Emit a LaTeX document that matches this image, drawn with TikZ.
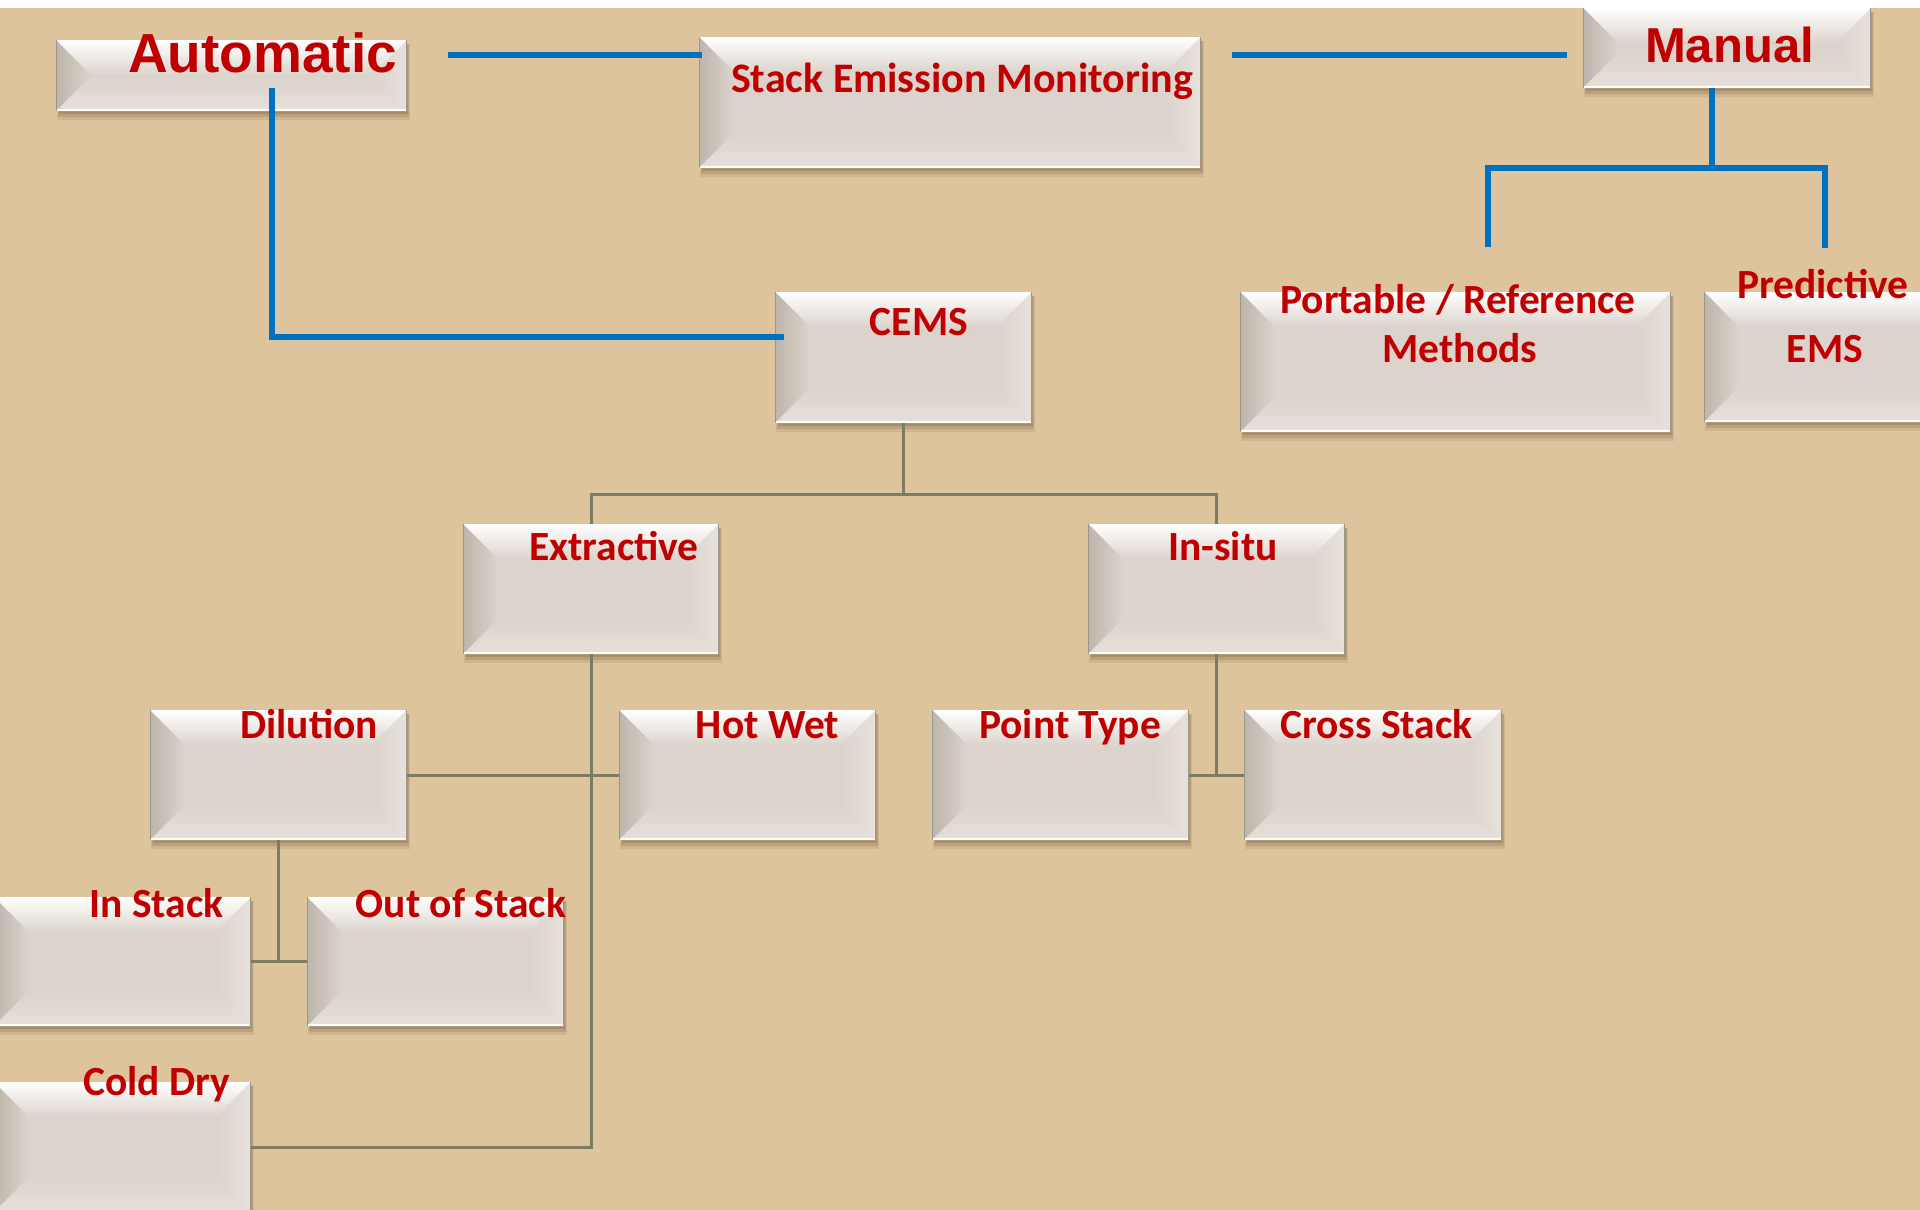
\documentclass[tikz,border=0pt]{standalone}
\usepackage{fontspec}
\setmainfont{Carlito}
\newfontfamily\headfont{Liberation Sans}

\definecolor{bgtan}{HTML}{DEC49C}
\definecolor{face}{HTML}{DCD4CC}
\definecolor{bevdark}{HTML}{BDB5AC}
\definecolor{bevlight}{HTML}{E8E2DA}
\definecolor{bevbot}{HTML}{E6E0D8}
\definecolor{edgecol}{HTML}{9C958C}
\definecolor{shadowcol}{HTML}{4A3418}
\definecolor{txtred}{HTML}{C00000}
\definecolor{lineblue}{HTML}{0070C0}
\definecolor{linegray}{HTML}{7E7C60}

\tikzset{
  boxnode/.style={inner sep=0pt, outer sep=0pt},
  lbl/.style={text=txtred, font=\bfseries\fontsize{41.5}{49}\selectfont, anchor=base, inner sep=0pt},
  headlbl/.style={text=txtred, anchor=base, inner sep=0pt},
  blueline/.style={draw=lineblue, line width=5.5pt},
  grayline/.style={draw=linegray, line width=3pt},
}

% bevelled box: name, x1, y1, x2, y2 (y grows downwards)
\newcommand\bevbox[5]{%
  \pgfmathsetmacro\bw{#4-(#2)}%
  \pgfmathsetmacro\bh{#5-(#3)}%
  \pgfmathsetmacro\bd{min(35,\bh/2)}%
  \fill[shadowcol,opacity=.10] (#2+1,#3+4) rectangle (#4+3,#5+9);
  \fill[shadowcol,opacity=.14] (#2+2,#3+4) rectangle (#4+2,#5+6);
  \fill[shadowcol,opacity=.18] (#2+3,#3+4) rectangle (#4+1,#5+3);
  \fill[face] (#2,#3) rectangle (#4,#5);
  \shade[top color=white, middle color=white!75!face, bottom color=face]
    (#2,#3) -- (#4,#3) -- (#4-\bd,#3+\bd) -- (#2+\bd,#3+\bd) -- cycle;
  \shade[left color=bevdark, right color=face]
    (#2,#3) -- (#2+\bd,#3+\bd) -- (#2+\bd,#5-\bd) -- (#2,#5) -- cycle;
  \shade[left color=face, right color=bevlight]
    (#4,#3) -- (#4,#5) -- (#4-\bd,#5-\bd) -- (#4-\bd,#3+\bd) -- cycle;
  \shade[top color=face, bottom color=bevbot]
    (#2,#5) -- (#2+\bd,#5-\bd) -- (#4-\bd,#5-\bd) -- (#4,#5) -- cycle;
  \draw[white,line width=1.5pt] (#2,#5-1) -- (#4,#5-1);
  \draw[edgecol,line width=1pt] (#2+.5,#3) -- (#2+.5,#5) (#4-.5,#3) -- (#4-.5,#5);
  \node[boxnode, minimum width=\bw pt, minimum height=\bh pt] (#1) at ({(#2+#4)/2},{(#3+#5)/2}) {};
}

\begin{document}
\begin{tikzpicture}[x=1pt,y=-1pt]
\useasboundingbox (0,0) rectangle (1920,1210);
\clip (0,0) rectangle (1920,1210);
\fill[bgtan] (0,0) rectangle (1920,1210);
\fill[white] (0,0) rectangle (1920,8);

% boxes
\bevbox{auto}{56}{40}{407}{111}
\bevbox{sem}{699}{37}{1201}{168}
\bevbox{manual}{1583}{8}{1871}{88}
\bevbox{cems}{775}{292}{1032}{423}
\bevbox{port}{1240}{292}{1671}{432}
\bevbox{pred}{1704}{292}{1962}{422}
\bevbox{extr}{463}{524}{719}{654}
\bevbox{insitu}{1088}{524}{1345}{654}
\bevbox{dil}{150}{710}{407}{840}
\bevbox{hot}{619}{710}{876}{840}
\bevbox{pt}{932}{710}{1189}{840}
\bevbox{cross}{1244}{710}{1502}{840}
\bevbox{instack}{-6}{897}{251}{1026}
\bevbox{outstack}{307}{897}{564}{1026}
\bevbox{cold}{-6}{1082}{251}{1212}

% blue connectors (top level)
\coordinate (aS) at (448,55);
\draw[blueline] (aS) -- ([xshift=3pt]aS -| sem.west);
\coordinate (mS) at (1232,55);
\coordinate (mE) at (1567,55);
\draw[blueline] (mS) -- (mE);
\coordinate (aDown) at (272,88);
\coordinate (cIn) at (784,337);
\draw[blueline] (aDown) |- (cIn);
\coordinate (mj) at (1712,168);
\coordinate (pTop) at (1488,247);
\coordinate (eTop) at (1825,248);
\draw[blueline] ([xshift=-15pt]manual.south) -- (mj);
\draw[blueline] (pTop) |- (mj) -| (eTop);

% gray connectors (CEMS tree)
\draw[grayline] (cems.south) -- ++(0,71) coordinate (cj);
\draw[grayline] (extr.north) |- (cj) -| (insitu.north);
\draw[grayline] (extr.south) |- (cold.east);
\draw[grayline] (dil.east) -- (hot.west);
\draw[grayline] (insitu.south) -- (insitu.south |- pt.east);
\draw[grayline] (pt.east) -- (cross.west);
\draw[grayline] (dil.south) -- (dil.south |- instack.east);
\draw[grayline] (instack.east) -- (outstack.west);

% labels
\node[headlbl, font=\headfont\bfseries\fontsize{55}{60}\selectfont] (tAuto) at (262.5,72) {Automatic};
\node[headlbl, font=\headfont\bfseries\fontsize{49}{54}\selectfont] (tManual) at (1729.5,62) {Manual};
\node[lbl, font=\bfseries\fontsize{42}{50}\selectfont] (tSem) at (962,92) {Stack Emission Monitoring};
\node[lbl] (tCems) at (919,335) {CEMS};
\node[lbl] (tPort1) at (1458,313) {Portable / Reference};
\node[lbl] (tPort2) at (1460,362) {Methods};
\node[lbl] (tPred1) at (1823,298) {Predictive};
\node[lbl] (tPred2) at (1825,362) {EMS};
\node[lbl] (tExtr) at (614,560) {Extractive};
\node[lbl] (tInsitu) at (1223,560) {In-situ};
\node[lbl] (tDil) at (309,738) {Dilution};
\node[lbl] (tHot) at (767.5,738) {Hot Wet};
\node[lbl] (tPt) at (1070,738) {Point Type};
\node[lbl] (tCross) at (1376.5,738) {Cross Stack};
\node[lbl] (tIn) at (156.5,917) {In Stack};
\node[lbl] (tOut) at (461,917) {Out of Stack};
\node[lbl] (tCold) at (156.5,1095) {Cold Dry};
\end{tikzpicture}
\end{document}
